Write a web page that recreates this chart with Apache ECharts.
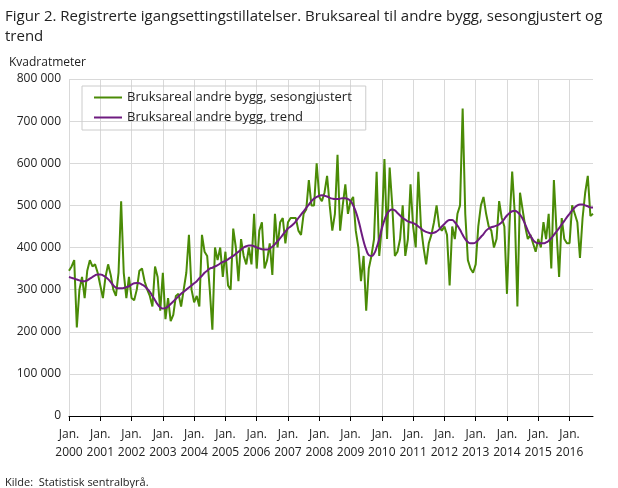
<!DOCTYPE html>
<html><head><meta charset="utf-8">
<script src="https://cdn.jsdelivr.net/npm/echarts@6/dist/echarts.min.js"></script>
<style>html,body{margin:0;padding:0;background:#fff}#c{width:618px;height:488px}</style>
</head><body><div id="c"></div>
<script>
const years = [2000,2001,2002,2003,2004,2005,2006,2007,2008,2009,2010,2011,2012,2013,2014,2015,2016];
const seasonal = [
345,355,370,210,300,330,280,345,370,355,360,340,
310,280,330,360,335,300,285,340,510,340,280,330,
280,275,300,345,350,320,300,285,260,355,330,250,
340,230,280,225,240,285,290,260,300,340,430,300,
270,285,260,430,390,380,300,205,400,370,400,330,
390,310,300,445,400,320,420,380,360,400,360,480,
350,440,460,350,370,410,335,480,400,460,470,410,
460,470,470,470,440,430,480,490,560,500,500,600,
520,510,530,570,500,440,480,620,440,500,550,480,
510,520,440,400,320,380,250,350,380,420,580,380,
450,610,420,590,500,380,390,420,500,380,420,550,
450,400,580,450,400,360,410,430,460,500,450,440,
450,430,310,450,420,480,500,730,480,370,350,340,
360,450,500,520,480,450,440,400,420,510,470,450,
290,460,580,480,260,530,490,450,420,430,410,390,
420,400,460,420,480,350,560,440,330,470,420,410,
410,500,480,460,375,470,530,570,475,480];
const trend = [
330,328,326,324,322,320,320,322,326,330,334,336,
336,334,330,325,318,310,305,303,303,304,306,308,
312,315,316,315,312,308,302,295,285,275,265,258,
255,256,260,266,272,278,284,290,295,300,305,310,
315,320,327,333,340,345,350,352,355,358,362,366,
368,372,376,380,385,390,395,400,403,405,405,403,
400,398,396,395,395,398,402,408,415,422,430,438,
445,450,455,462,470,478,486,494,502,510,516,520,
523,524,523,521,518,516,515,515,516,517,517,515,
510,500,485,465,440,415,395,382,380,385,400,420,
445,465,480,488,490,488,482,476,470,466,462,460,
458,455,450,445,440,437,435,434,435,438,443,450,
456,462,465,465,460,452,442,430,420,413,410,410,
412,418,425,432,440,445,448,450,452,455,460,468,
476,482,486,487,484,478,468,455,440,428,418,412,
410,410,410,412,416,422,430,438,446,455,463,472,
480,488,495,500,502,502,500,498,495,495];
const cats = [];
for (let i = 0; i < seasonal.length; i++) {
  const y = years[Math.floor(i/12)], m = i%12;
  cats.push(m === 0 ? 'Jan.\n' + y : y + '-' + (m+1));
}
const ff = '"Open Sans", sans-serif';
const fmt = v => String(v).replace(/\B(?=(\d{3})+(?!\d))/g, ' ');
const chart = echarts.init(document.getElementById('c'));
chart.setOption({
  animation: false,
  textStyle: {fontFamily: ff},
  title: [
    {text: 'Figur 2. Registrerte igangsettingstillatelser. Bruksareal til andre bygg, sesongjustert og\ntrend', left: 0, top: 2,
     textStyle: {fontSize: 15, fontWeight: 'normal', color: '#222', fontFamily: ff, lineHeight: 20}},
    {text: 'Kvadratmeter', left: 4, top: 52, textStyle: {fontSize: 12, fontWeight: 'normal', color: '#222', fontFamily: ff}},
    {text: 'Kilde:  Statistisk sentralbyrå.', left: 0, top: 472, textStyle: {fontSize: 11, fontWeight: 'normal', color: '#222', fontFamily: ff}}
  ],
  legend: {
    left: 82, top: 86, orient: 'vertical', itemWidth: 28, itemHeight: 2, itemGap: 7,
    borderColor: '#ccc', borderWidth: 1, padding: [5, 14, 6, 12],
    textStyle: {fontSize: 13, color: '#222', fontFamily: ff},
    data: [{name: 'Bruksareal andre bygg, sesongjustert', icon: 'rect'}, {name: 'Bruksareal andre bygg, trend', icon: 'rect'}]
  },
  grid: {left: 69, right: 25, top: 79, bottom: 72},
  xAxis: {
    type: 'category', data: cats, boundaryGap: false,
    axisLine: {lineStyle: {color: '#000'}},
    axisTick: {interval: i => i % 12 === 0, length: 5, lineStyle: {color: '#000'}},
    axisLabel: {interval: i => i % 12 === 0, color: '#222', fontSize: 12, lineHeight: 18, margin: 10, fontFamily: ff},
    splitLine: {show: true, interval: i => i % 12 === 0, lineStyle: {color: '#d9d9d9'}}
  },
  yAxis: {
    type: 'value', min: 0, max: 800, interval: 100,
    axisLabel: {formatter: v => fmt(v*1000), color: '#222', fontSize: 12, fontFamily: ff},
    splitLine: {lineStyle: {color: '#d9d9d9'}}
  },
  series: [
    {name: 'Bruksareal andre bygg, sesongjustert', type: 'line', data: seasonal, symbol: 'none',
     lineStyle: {width: 2, color: '#4a8b06'}, itemStyle: {color: '#4a8b06'}},
    {name: 'Bruksareal andre bygg, trend', type: 'line', data: trend, symbol: 'none', smooth: true,
     lineStyle: {width: 2, color: '#6e1b80'}, itemStyle: {color: '#6e1b80'}}
  ]
});
</script></body></html>
